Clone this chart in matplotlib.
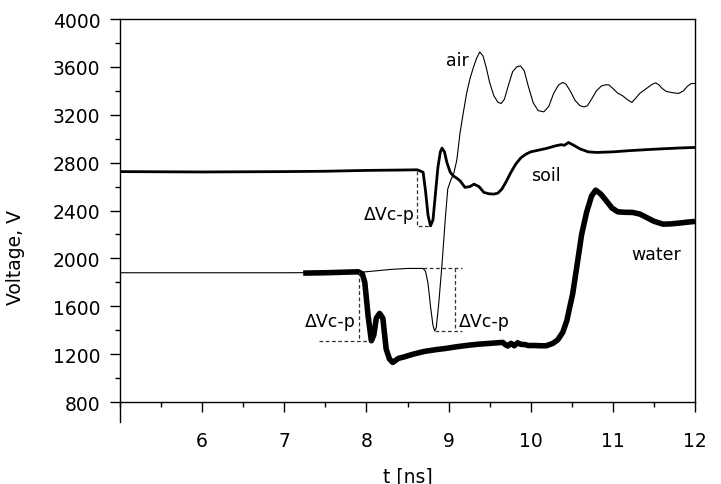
import matplotlib
matplotlib.use('Agg')
import matplotlib.pyplot as plt
from matplotlib.ticker import MultipleLocator

# air gap (thin line)
t_air = [5.0, 6.0, 7.0, 7.9, 8.1, 8.3, 8.5, 8.69, 8.72, 8.75, 8.78, 8.81, 8.83,
         8.85, 8.88, 8.92, 8.96, 8.99, 9.03, 9.06, 9.10, 9.14, 9.18, 9.22, 9.26,
         9.30, 9.34, 9.38, 9.42, 9.46, 9.50, 9.55, 9.60, 9.64, 9.68, 9.73, 9.78,
         9.83, 9.875, 9.92, 9.97, 10.03, 10.09, 10.16, 10.22, 10.28, 10.34, 10.39,
         10.43, 10.48, 10.54, 10.60, 10.65, 10.69, 10.74, 10.80, 10.86, 10.91,
         10.95, 11.00, 11.06, 11.12, 11.18, 11.23, 11.28, 11.33, 11.37, 11.42,
         11.48, 11.52, 11.56, 11.60, 11.65, 11.72, 11.80, 11.86, 11.91, 11.955, 12.0]
v_air = [1880, 1880, 1880, 1882, 1895, 1908, 1916, 1916, 1890, 1790, 1600, 1440, 1395,
         1420, 1620, 1950, 2330, 2580, 2660, 2700, 2820, 3050, 3220, 3380, 3500,
         3590, 3670, 3725, 3690, 3590, 3470, 3360, 3305, 3294, 3330, 3450, 3560,
         3600, 3608, 3570, 3440, 3300, 3235, 3224, 3270, 3380, 3450, 3470,
         3455, 3400, 3320, 3275, 3266, 3275, 3330, 3400, 3440, 3450,
         3450, 3420, 3380, 3358, 3325, 3303, 3340, 3380, 3400, 3425,
         3455, 3467, 3450, 3420, 3395, 3385, 3378, 3400, 3440, 3461, 3461]

# soil (medium line)
t_soil = [5.0, 6.0, 7.0, 7.5, 8.0, 8.4, 8.62, 8.69, 8.72, 8.75, 8.78, 8.81, 8.84,
          8.87, 8.90, 8.92, 8.95, 8.98, 9.02, 9.055, 9.10, 9.14, 9.20, 9.26, 9.31,
          9.37, 9.43, 9.49, 9.55, 9.60, 9.65, 9.70, 9.76, 9.82, 9.88, 9.94, 10.0,
          10.1, 10.2, 10.3, 10.37, 10.41, 10.46, 10.51, 10.6, 10.7, 10.8, 11.0,
          11.2, 11.5, 11.8, 12.0]
v_soil = [2725, 2722, 2725, 2728, 2735, 2738, 2740, 2720, 2560, 2360, 2272, 2320, 2540,
          2760, 2890, 2921, 2890, 2800, 2720, 2690, 2670, 2648, 2593, 2600, 2620,
          2600, 2551, 2540, 2537, 2545, 2580, 2640, 2720, 2790, 2840, 2870, 2890,
          2905, 2920, 2940, 2950, 2945, 2968, 2950, 2915, 2890, 2885, 2890,
          2900, 2912, 2922, 2927]

# water (thick line)
t_water = [7.23, 7.5, 7.8, 7.90, 7.95, 7.98, 8.02, 8.06, 8.09, 8.12, 8.16, 8.20,
           8.24, 8.28, 8.32, 8.36, 8.39, 8.45, 8.57, 8.7, 8.85, 8.97, 9.1, 9.25,
           9.38, 9.5, 9.6, 9.66, 9.69, 9.72, 9.76, 9.80, 9.84, 9.88, 9.93, 9.97,
           10.05, 10.12, 10.19, 10.27, 10.33, 10.39, 10.44, 10.47, 10.51, 10.56,
           10.62, 10.68, 10.74, 10.79, 10.85, 10.92, 10.99, 11.06, 11.15, 11.24,
           11.33, 11.41, 11.5, 11.61, 11.7, 11.81, 11.9, 12.0]
v_water = [1877, 1880, 1886, 1888, 1870, 1800, 1521, 1312, 1360, 1500, 1540, 1500,
           1243, 1160, 1131, 1150, 1165, 1175, 1200, 1222, 1238, 1248, 1262, 1275,
           1284, 1290, 1295, 1298, 1280, 1268, 1290, 1270, 1295, 1282, 1280, 1272,
           1272, 1270, 1270, 1290, 1320, 1382, 1480, 1577, 1700, 1925,
           2200, 2384, 2520, 2570, 2540, 2481, 2420, 2389, 2385, 2384,
           2370, 2342, 2310, 2286, 2288, 2295, 2302, 2309]

plt.rcParams['font.family'] = 'DejaVu Sans'

fig = plt.figure(figsize=(7.21, 4.85), dpi=100)
ax = fig.add_axes([120 / 721, 1 - 423 / 485, 575 / 721, 403 / 485])

ax.plot(t_air, v_air, color='black', lw=0.8)
ax.plot(t_soil, v_soil, color='black', lw=2.0)
ax.plot(t_water, v_water, color='black', lw=4.0, solid_capstyle='butt')

# peak-to-peak markers
dash = dict(color='#333333', lw=0.9, ls=(0, (3, 2)))
ax.plot([8.62, 8.62, 8.78], [2732, 2272, 2272], **dash)
ax.plot([7.91, 7.91], [1890, 1312], **dash)
ax.plot([7.425, 8.06], [1312, 1312], **dash)
ax.plot([8.69, 9.16], [1916, 1916], **dash)
ax.plot([8.83, 9.16], [1390, 1390], **dash)
ax.plot([9.08, 9.08], [1916, 1390], **dash)

ax.text(8.59, 2370, '\u0394Vc-p', fontsize=12.5, ha='right', va='center')
ax.text(7.87, 1479, '\u0394Vc-p', fontsize=12.5, ha='right', va='center')
ax.text(9.12, 1479, '\u0394Vc-p', fontsize=12.5, ha='left', va='center')

ax.text(8.97, 3660, 'air', fontsize=12.5, ha='left', va='center')
ax.text(10.0, 2700, 'soil', fontsize=12.5, ha='left', va='center')
ax.text(11.22, 2040, 'water', fontsize=12.5, ha='left', va='center')

ax.set_xlim(5, 12)
ax.set_ylim(633, 4000)
ax.spines['bottom'].set_position(('data', 800))
ax.spines['right'].set_bounds(800, 4000)
for s in ax.spines.values():
    s.set_linewidth(1.0)

ax.set_xticks([6, 7, 8, 9, 10, 11, 12])
ax.xaxis.set_minor_locator(MultipleLocator(0.5))
ax.set_yticks(range(800, 4001, 400))
ax.yaxis.set_minor_locator(MultipleLocator(200))
ax.tick_params(which='major', direction='out', length=7.2, width=1, labelsize=13.5)
ax.tick_params(which='minor', direction='out', length=3.6, width=1)
ax.tick_params(axis='x', which='major', pad=14)
ax.tick_params(axis='y', which='major', pad=7)

ax.set_xlabel('t [ns]', fontsize=13.5)
ax.xaxis.set_label_coords(0.5, -0.11)
ax.set_ylabel('Voltage, V', fontsize=13.5)
ax.yaxis.set_label_coords(-0.165, 0.41)

fig.savefig('out.png', dpi=100)
